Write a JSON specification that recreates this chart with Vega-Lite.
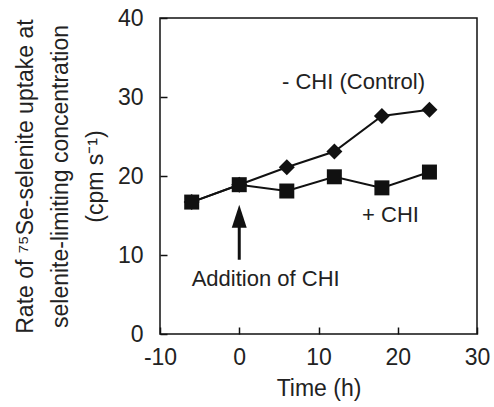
{
  "$schema": "https://vega.github.io/schema/vega-lite/v6.json",
  "width": 317,
  "height": 316,
  "autosize": "none",
  "padding": {"left": 160, "top": 18, "right": 17, "bottom": 73},
  "background": "white",
  "config": {
    "font": "Liberation Sans",
    "view": {"stroke": "#111", "strokeWidth": 1.5}
  },
  "datasets": {
    "series": [
      {"series": "Control", "time": -6, "rate": 16.7},
      {"series": "Control", "time": 0, "rate": 18.9},
      {"series": "Control", "time": 6, "rate": 21.1},
      {"series": "Control", "time": 12, "rate": 23.1},
      {"series": "Control", "time": 18, "rate": 27.6},
      {"series": "Control", "time": 24, "rate": 28.4},
      {"series": "CHI", "time": -6, "rate": 16.7},
      {"series": "CHI", "time": 0, "rate": 18.9},
      {"series": "CHI", "time": 6, "rate": 18.1},
      {"series": "CHI", "time": 12, "rate": 19.9},
      {"series": "CHI", "time": 18, "rate": 18.5},
      {"series": "CHI", "time": 24, "rate": 20.5}
    ],
    "labels": [
      {"label": "- CHI (Control)", "time": 5.4, "rate": 31.9},
      {"label": "+ CHI", "time": 15.5, "rate": 15.1},
      {"label": "Addition of CHI", "time": -6.0, "rate": 7.0}
    ],
    "arrow": [{"time": 0, "rate": 9.4, "rate2": 13.6}],
    "arrowhead": [{"time": 0, "rate": 14.9}]
  },
  "encoding": {
    "x": {
      "field": "time",
      "type": "quantitative",
      "scale": {"domain": [-10, 30], "nice": false, "zero": false},
      "axis": {
        "values": [-10, 0, 10, 20, 30],
        "labelExpr": "'' + datum.value",
        "grid": false,
        "domain": false,
        "tickSize": -7,
        "tickColor": "#111",
        "tickWidth": 1.5,
        "labelFlush": false,
        "labelOverlap": false,
        "labelFontSize": 23,
        "labelColor": "#222",
        "labelPadding": 19,
        "title": "Time (h)",
        "titleFontSize": 23,
        "titleFontWeight": "normal",
        "titleColor": "#222",
        "titleBaseline": "alphabetic",
        "titleY": 61
      }
    },
    "y": {
      "field": "rate",
      "type": "quantitative",
      "scale": {"domain": [0, 40], "nice": false},
      "axis": {
        "values": [0, 10, 20, 30, 40],
        "labelExpr": "'' + datum.value",
        "grid": false,
        "domain": false,
        "tickSize": -7,
        "tickColor": "#111",
        "tickWidth": 1.5,
        "labelOverlap": false,
        "labelFontSize": 23,
        "labelColor": "#222",
        "labelPadding": 24,
        "title": ["Rate of ⁷⁵Se-selenite uptake at", "selenite-limiting concentration", "(cpm s⁻¹)"],
        "titleFontSize": 23,
        "titleFontWeight": "normal",
        "titleColor": "#222",
        "titleLineHeight": 35,
        "titleAngle": -90,
        "titleAlign": "center",
        "titleBaseline": "middle",
        "titleX": -135,
        "titleY": 158
      }
    }
  },
  "layer": [
    {
      "data": {"name": "series"},
      "mark": {"type": "line", "color": "#111", "strokeWidth": 2},
      "encoding": {"detail": {"field": "series"}}
    },
    {
      "data": {"name": "series"},
      "mark": {"type": "point", "filled": true, "opacity": 1, "color": "#111"},
      "encoding": {
        "shape": {"field": "series", "type": "nominal", "scale": {"domain": ["Control", "CHI"], "range": ["diamond", "square"]}, "legend": null},
        "size": {"field": "series", "type": "nominal", "scale": {"domain": ["Control", "CHI"], "range": [256, 225]}, "legend": null}
      }
    },
    {
      "data": {"name": "arrow"},
      "mark": {"type": "rule", "color": "#111", "strokeWidth": 3},
      "encoding": {"y2": {"field": "rate2"}}
    },
    {
      "data": {"name": "arrowhead"},
      "mark": {"type": "point", "filled": true, "opacity": 1, "color": "#111", "shape": "M0,-1L0.65,1L-0.65,1Z", "size": 529},
      "encoding": {}
    },
    {
      "data": {"name": "labels"},
      "mark": {"type": "text", "align": "left", "baseline": "middle", "fontSize": 22, "color": "#222"},
      "encoding": {"text": {"field": "label"}}
    }
  ]
}
